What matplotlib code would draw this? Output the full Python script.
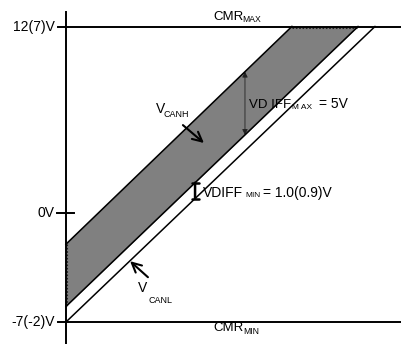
import numpy as np
import matplotlib
matplotlib.use("Agg")
import matplotlib.pyplot as plt

plt.rcParams['font.family'] = ['Liberation Sans', 'DejaVu Sans']

# common mode range (volts)
cmr_max = 12
cmr_min = -7
y_ticks = [12, 0, -7]
y_tick_labels = ['12(7)V', '0V', '-7(-2)V']

# diagonal lines: start at x=0, end where they hit CMR_MAX
canh_x = [0, 14.53]
canh_y = [-2, 12]
canl_x = [0, 18.78]
canl_y = [-6, 12]
limit_x = [0, 19.87]
limit_y = [-7, 12]

# where the VDIFF markers sit along x
vdiff_max_x = 11.51
vdiff_min_x = 8.30

band_gray = '#808080'

fig = plt.figure(figsize=(4.02, 3.44), dpi=100)
ax = fig.add_axes([0, 0, 1, 1])
ax.set_xlim(-4.244, 21.608)
ax.set_ylim(-8.415, 13.704)
ax.axis('off')

# gray band between V_CANH and V_CANL
bx = np.array([0, canh_x[1], canl_x[1]])
top = np.minimum(np.interp(bx, canh_x, canh_y, right=cmr_max), cmr_max)
bot = np.interp(bx, canl_x, canl_y)
ax.fill_between(bx, bot, top, color=band_gray, lw=0, zorder=1)
ax.plot([canh_x[1], canl_x[1]], [cmr_max - 0.07, cmr_max - 0.07], color='#222222',
        ls=(0, (1.5, 1.5)), lw=0.8, zorder=2)
ax.plot([0.08, 0.08], [canh_y[0], canl_y[0]], color='#222222',
        ls=(0, (1.5, 1.5)), lw=0.8, zorder=2)

ax.plot(canh_x, canh_y, color='black', lw=1.2, zorder=3)
ax.plot(canl_x, canl_y, color='black', lw=1.1, zorder=3)
ax.plot(limit_x, limit_y, color='black', lw=1.1, zorder=3)

# axes frame
ax.plot([0, 0], [12.93, -8.415], color='black', lw=1.4, zorder=4)
ax.plot([-0.52, 21.608], [cmr_max, cmr_max], color='black', lw=1.4, zorder=4)
ax.plot([-0.52, 21.608], [cmr_min, cmr_min], color='black', lw=1.4, zorder=4)
ax.plot([-0.58, 0.51], [0, 0], color='black', lw=1.4, zorder=4)

for yv, lab in zip(y_ticks, y_tick_labels):
    ax.text(-0.72, yv, lab, ha='right', va='center', fontsize=10)

# CMR labels
ax.text(9.45, 12.45, 'CMR', fontsize=9.5, va='baseline')
ax.text(11.32, 12.30, 'MAX', fontsize=6.2, va='baseline')
ax.text(9.45, -7.59, 'CMR', fontsize=9.5, va='baseline')
ax.text(11.38, -7.79, 'MIN', fontsize=6.2, va='baseline')

# V_CANH label and arrow
ax.text(5.79, 6.44, 'V', fontsize=10, va='baseline')
ax.text(6.30, 6.18, 'CANH', fontsize=6.5, va='baseline')
ax.annotate('', xy=(8.87, 4.51), xytext=(7.52, 5.66),
            arrowprops=dict(arrowstyle='->', lw=1.5, color='black',
                            mutation_scale=17, shrinkA=0, shrinkB=0), zorder=5)

# V_CANL label and arrow
ax.text(4.63, -5.09, 'V', fontsize=10, va='baseline')
ax.text(5.30, -5.78, 'CANL', fontsize=6.5, va='baseline')
ax.annotate('', xy=(4.12, -3.09), xytext=(5.27, -4.12),
            arrowprops=dict(arrowstyle='->', lw=1.5, color='black',
                            mutation_scale=17, shrinkA=0, shrinkB=0), zorder=5)

# VDIFF max marker
y_hi = np.interp(vdiff_max_x, canh_x, canh_y)
y_lo = np.interp(vdiff_max_x, canl_x, canl_y)
ax.annotate('', xy=(vdiff_max_x, y_hi), xytext=(vdiff_max_x, y_lo),
            arrowprops=dict(arrowstyle='<|-|>', lw=0.6, color='#222222',
                            mutation_scale=8, shrinkA=0, shrinkB=0), zorder=2)
ax.text(11.77, 6.76, 'VD IFF', fontsize=9.5, va='baseline', zorder=2)
ax.text(14.55, 6.70, 'M AX', fontsize=6, va='baseline', zorder=2)
ax.text(16.25, 6.76, '= 5V', fontsize=10, va='baseline', zorder=2)

# VDIFF min marker
y_hi = np.interp(vdiff_min_x, canl_x, canl_y)
y_lo = np.interp(vdiff_min_x, limit_x, limit_y)
ax.annotate('', xy=(vdiff_min_x, y_hi), xytext=(vdiff_min_x, y_lo),
            arrowprops=dict(arrowstyle='|-|, widthA=0.25, widthB=0.25', lw=1.8,
                            color='black', shrinkA=0, shrinkB=0), zorder=5)
ax.text(8.81, 1.04, 'VDIFF', fontsize=10, va='baseline')
ax.text(11.55, 1.04, 'MIN', fontsize=6, va='baseline')
ax.text(12.67, 1.04, '= 1.0(0.9)V', fontsize=10, va='baseline')

fig.savefig('out.png', dpi=100)
